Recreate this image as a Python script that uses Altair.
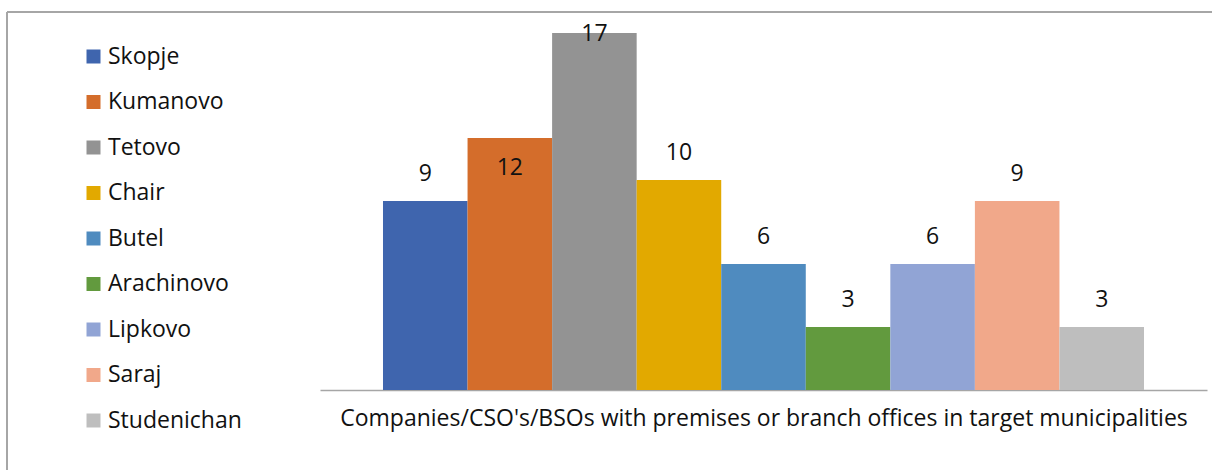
import altair as alt
import pandas as pd

municipalities = ["Skopje", "Kumanovo", "Tetovo", "Chair", "Butel",
                  "Arachinovo", "Lipkovo", "Saraj", "Studenichan"]
values = [9, 12, 17, 10, 6, 3, 6, 9, 3]
colors = ["#3F65AE", "#D46D2B", "#939393", "#E2A900", "#4F8BBF",
          "#629A3E", "#91A4D5", "#F1A88A", "#BEBEBE"]
x_title = "Companies/CSO's/BSOs with premises or branch offices in target municipalities"

df = pd.DataFrame({"municipality": municipalities, "value": values})

FONT = "Open Sans"
FS = 23

x_enc = alt.X("municipality:N", sort=municipalities,
              scale=alt.Scale(paddingInner=0, paddingOuter=0.745),
              axis=alt.Axis(title=x_title, labels=False, ticks=False, grid=False,
                            domainColor="#A6A6A6", domainWidth=1.5,
                            titleFont=FONT, titleFontSize=FS, titleFontWeight="normal",
                            titleColor="#111111", titlePadding=17))
y_enc = alt.Y("value:Q", scale=alt.Scale(domain=[0, 18], nice=False), axis=None)

base = alt.Chart(df)

bars = base.mark_bar().encode(
    x=x_enc, y=y_enc,
    color=alt.Color("municipality:N", sort=municipalities,
                    scale=alt.Scale(domain=municipalities, range=colors),
                    legend=alt.Legend(title=None, orient="none", legendX=-238, legendY=33,
                                      symbolType="square", symbolSize=196,
                                      symbolStrokeWidth=0, labelFont=FONT,
                                      labelFontSize=FS, labelColor="#111111",
                                      labelOffset=3, rowPadding=21.5)),
)

inside_names = ["Kumanovo"]
edge_names = ["Tetovo"]
above_names = [m for m in municipalities if m not in inside_names + edge_names]

def labels(names, dy):
    return base.transform_filter(
        alt.FieldOneOfPredicate(field="municipality", oneOf=names)
    ).mark_text(font=FONT, fontSize=FS, color="#111111", baseline="middle", dy=dy).encode(
        x=alt.X("municipality:N", sort=municipalities),
        y=alt.Y("value:Q", axis=None), text="value:Q")

frame_top = base.mark_rule(color="#A6A6A6", strokeWidth=2).encode(
    x=alt.value(-313), x2=alt.value(900), y=alt.value(0))
frame_left = base.mark_rule(color="#A6A6A6", strokeWidth=2).encode(
    x=alt.value(-313), y=alt.value(0), y2=alt.value(470))

chart = alt.layer(
    frame_top, frame_left, bars,
    labels(above_names, -27), labels(inside_names, 30), labels(edge_names, 1),
).properties(
    width=887, height=378,
    autosize=alt.AutoSizeParams(type="none"),
    padding={"left": 320, "top": 12, "right": 5, "bottom": 80},
).configure(background="white").configure_view(stroke=None)

chart.save("out.html", embed_options={"renderer": "svg", "actions": False})
